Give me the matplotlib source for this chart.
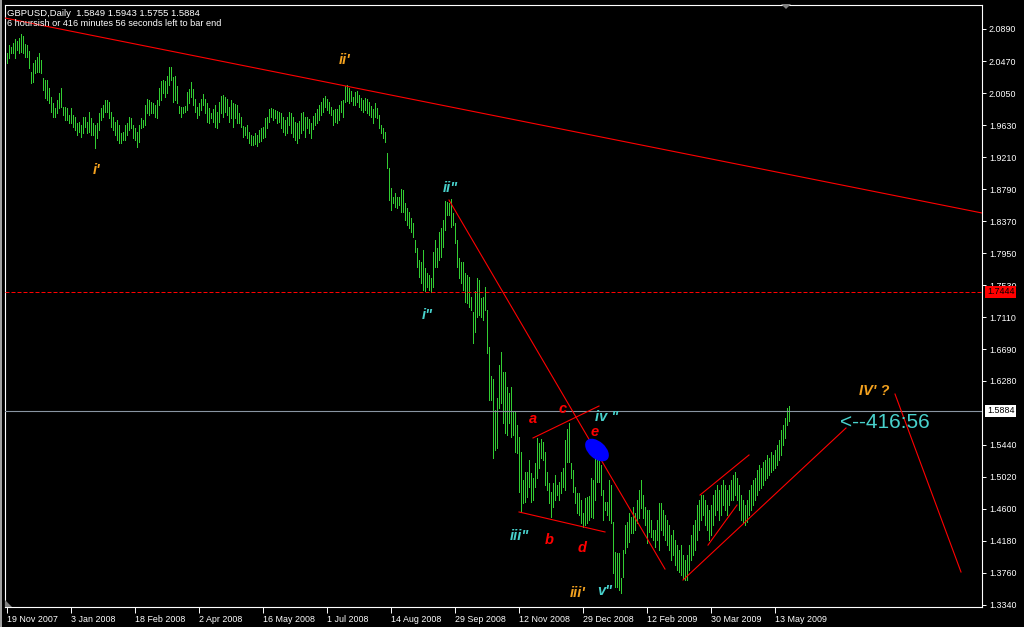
import numpy as np
import matplotlib
matplotlib.use("Agg")
import matplotlib.pyplot as plt
from matplotlib.patches import Ellipse, Polygon, Rectangle
from matplotlib.transforms import ScaledTranslation, blended_transform_factory

plt.rcParams['font.family'] = ['Liberation Sans', 'DejaVu Sans']

SYMBOL = "GBPUSD,Daily"
LAST_BAR = [1.5849, 1.5943, 1.5755, 1.5884]
TIMER = "6 hoursish or 416 minutes 56 seconds left to bar end"

# ---- daily high / low values ----
high_a = [2.058, 2.068, 2.065, 2.071, 2.076, 2.073, 2.077, 2.082, 2.080, 2.069,
          2.068, 2.060, 2.033, 2.044, 2.048, 2.052, 2.058, 2.048, 2.025, 2.022,
          2.022, 2.012, 2.000, 1.992, 1.985, 1.996, 2.005, 2.012, 1.987, 1.987,
          1.985, 1.976, 1.985, 1.976, 1.974, 1.966, 1.967, 1.963, 1.974, 1.974,
          1.967, 1.980, 1.972, 1.966, 1.963, 1.966, 1.979, 1.985, 1.989, 1.996,
          1.996, 1.993, 1.980, 1.974, 1.967, 1.970, 1.963]
low_a = [2.044, 2.051, 2.058, 2.058, 2.051, 2.062, 2.058, 2.059, 2.058, 2.052,
         2.052, 2.038, 2.018, 2.020, 2.031, 2.033, 2.033, 2.031, 2.009, 1.999,
         1.996, 1.992, 1.980, 1.974, 1.974, 1.979, 1.985, 1.987, 1.976, 1.970,
         1.970, 1.966, 1.966, 1.961, 1.957, 1.950, 1.954, 1.947, 1.953, 1.961,
         1.953, 1.954, 1.950, 1.950, 1.933, 1.946, 1.957, 1.970, 1.974, 1.980,
         1.980, 1.972, 1.961, 1.957, 1.950, 1.943, 1.940]

high_b = [1.953, 1.954, 1.963, 1.966, 1.974, 1.972, 1.963, 1.959, 1.954, 1.963,
          1.972, 1.970, 1.989, 1.997, 1.996, 1.993, 1.992, 1.989, 1.996, 2.012,
          2.021, 2.022, 2.021, 2.027, 2.039, 2.039, 2.026, 2.027, 2.014, 1.988,
          1.987, 1.987, 1.988, 2.006, 2.010, 2.020, 2.010, 1.997, 1.987, 1.992,
          1.997, 2.004, 1.997, 1.992, 1.985, 1.979, 1.984, 1.989, 1.980, 1.993,
          2.001, 2.002, 2.000, 1.997, 1.987, 1.996, 1.992, 1.991, 1.989, 1.979,
          1.974, 1.962, 1.961, 1.963, 1.954, 1.950, 1.949, 1.953, 1.950, 1.957]
low_b = [1.940, 1.943, 1.943, 1.950, 1.957, 1.959, 1.946, 1.943, 1.934, 1.941,
         1.959, 1.961, 1.963, 1.979, 1.976, 1.979, 1.979, 1.974, 1.972, 1.989,
         1.996, 2.005, 2.000, 2.005, 2.016, 2.022, 1.993, 1.996, 1.992, 1.979,
         1.974, 1.979, 1.980, 1.983, 1.992, 2.000, 1.989, 1.980, 1.972, 1.976,
         1.983, 1.989, 1.979, 1.967, 1.966, 1.972, 1.967, 1.961, 1.959, 1.967,
         1.979, 1.974, 1.980, 1.976, 1.967, 1.972, 1.961, 1.972, 1.966, 1.966,
         1.961, 1.947, 1.950, 1.946, 1.940, 1.937, 1.937, 1.938, 1.936, 1.941]

high_c = [1.959, 1.961, 1.972, 1.974, 1.984, 1.985, 1.984, 1.983, 1.981, 1.980,
          1.979, 1.974, 1.970, 1.974, 1.980, 1.979, 1.974, 1.967, 1.966, 1.968,
          1.979, 1.980, 1.974, 1.974, 1.971, 1.966, 1.975, 1.979, 1.984, 1.989,
          1.993, 1.999, 2.001, 1.997, 1.993, 1.987, 1.983, 1.984, 1.984, 1.989,
          1.995, 1.996, 2.014, 2.016, 2.012, 2.008, 2.000, 2.006, 2.008, 2.002,
          1.999, 1.996, 1.999, 1.997, 1.993, 1.988, 1.984, 1.992, 1.985, 1.976,
          1.963, 1.959, 1.954, 1.926, 1.907]
low_c = [1.942, 1.946, 1.947, 1.959, 1.967, 1.974, 1.970, 1.972, 1.966, 1.967,
         1.959, 1.954, 1.950, 1.953, 1.963, 1.953, 1.947, 1.943, 1.940, 1.946,
         1.953, 1.957, 1.947, 1.959, 1.953, 1.946, 1.958, 1.963, 1.966, 1.970,
         1.976, 1.980, 1.987, 1.983, 1.979, 1.976, 1.963, 1.967, 1.966, 1.970,
         1.980, 1.974, 1.993, 1.995, 1.992, 1.995, 1.989, 1.989, 1.993, 1.987,
         1.983, 1.980, 1.983, 1.979, 1.976, 1.974, 1.966, 1.974, 1.972, 1.959,
         1.953, 1.946, 1.941, 1.907, 1.865]

high_d = [1.881, 1.869, 1.874, 1.869, 1.869, 1.879, 1.878, 1.861, 1.854, 1.849,
          1.841, 1.835, 1.812, 1.802, 1.786, 1.784, 1.799, 1.776, 1.769, 1.767,
          1.763, 1.797, 1.812, 1.802, 1.823, 1.828, 1.839, 1.864, 1.862, 1.861,
          1.866, 1.848, 1.835, 1.812, 1.789, 1.784, 1.784, 1.769, 1.767, 1.764,
          1.738,
          1.718, 1.745, 1.763, 1.760, 1.736, 1.738, 1.751, 1.721, 1.672, 1.634,
          1.630, 1.590, 1.605, 1.649, 1.666, 1.639, 1.639, 1.620, 1.612, 1.620,
          1.587, 1.587, 1.570]
low_d = [1.852, 1.861, 1.856, 1.854, 1.858, 1.849, 1.849, 1.839, 1.832, 1.828,
         1.823, 1.816, 1.797, 1.777, 1.764, 1.756, 1.747, 1.745, 1.751, 1.747,
         1.7444, 1.751, 1.777, 1.777, 1.786, 1.790, 1.803, 1.826, 1.845, 1.845,
         1.829, 1.832, 1.808, 1.777, 1.763, 1.756, 1.747, 1.731, 1.730, 1.725,
         1.721,
         1.677, 1.692, 1.711, 1.714, 1.711, 1.708, 1.721, 1.664, 1.603, 1.603,
         1.527, 1.537, 1.540, 1.592, 1.599, 1.572, 1.559, 1.557, 1.572, 1.554,
         1.557, 1.535, 1.533]

high_e = [1.554, 1.535, 1.498, 1.508, 1.508, 1.524, 1.507, 1.500, 1.520, 1.553,
          1.546, 1.552, 1.548, 1.535, 1.508, 1.494, 1.482, 1.494, 1.504, 1.491,
          1.495, 1.508, 1.514, 1.550, 1.565, 1.572, 1.520, 1.511, 1.489, 1.481,
          1.481, 1.472, 1.455, 1.474, 1.476, 1.477, 1.500, 1.498, 1.550, 1.538,
          1.537, 1.517, 1.485, 1.469, 1.469, 1.498, 1.491, 1.443, 1.403, 1.402,
          1.402, 1.369, 1.406, 1.439, 1.443, 1.455, 1.449, 1.462, 1.455, 1.472,
          1.485, 1.498, 1.478, 1.462, 1.458, 1.458, 1.445, 1.432, 1.432, 1.445,
          1.468, 1.468]
low_e = [1.482, 1.456, 1.468, 1.469, 1.476, 1.489, 1.469, 1.472, 1.489, 1.500,
         1.514, 1.527, 1.524, 1.491, 1.485, 1.468, 1.449, 1.462, 1.472, 1.478,
         1.472, 1.481, 1.489, 1.485, 1.521, 1.521, 1.500, 1.482, 1.468, 1.455,
         1.452, 1.441, 1.436, 1.439, 1.441, 1.445, 1.449, 1.448, 1.472, 1.495,
         1.495, 1.478, 1.445, 1.458, 1.452, 1.445, 1.441, 1.376, 1.358, 1.358,
         1.354, 1.350, 1.371, 1.402, 1.410, 1.417, 1.428, 1.428, 1.432, 1.441,
         1.448, 1.461, 1.448, 1.439, 1.415, 1.430, 1.423, 1.419, 1.410, 1.419,
         1.406, 1.432]

high_f = [1.458, 1.452, 1.445, 1.439, 1.426, 1.432, 1.419, 1.413, 1.406, 1.413,
          1.399, 1.393, 1.399, 1.413, 1.426, 1.439, 1.445, 1.465, 1.472, 1.478,
          1.478, 1.472, 1.465, 1.458, 1.465, 1.478, 1.485, 1.491, 1.485, 1.491,
          1.498, 1.491, 1.485, 1.491, 1.498, 1.504, 1.508, 1.500, 1.491, 1.478,
          1.472, 1.465, 1.472, 1.485, 1.491, 1.498, 1.500, 1.511, 1.517, 1.514,
          1.521, 1.524, 1.531, 1.527, 1.535, 1.531, 1.537, 1.544, 1.550, 1.563,
          1.570, 1.579, 1.592, 1.5943]
low_f = [1.426, 1.419, 1.413, 1.406, 1.393, 1.399, 1.386, 1.380, 1.377, 1.373,
         1.369, 1.367, 1.367, 1.380, 1.393, 1.399, 1.406, 1.419, 1.432, 1.445,
         1.452, 1.439, 1.432, 1.419, 1.426, 1.439, 1.452, 1.458, 1.445, 1.452,
         1.465, 1.458, 1.452, 1.465, 1.472, 1.472, 1.478, 1.472, 1.458, 1.445,
         1.441, 1.439, 1.443, 1.452, 1.458, 1.465, 1.472, 1.478, 1.485, 1.487,
         1.491, 1.498, 1.500, 1.504, 1.508, 1.511, 1.514, 1.517, 1.524, 1.531,
         1.544, 1.553, 1.570, 1.5755]

highs = np.array(high_a + high_b + high_c + high_d + high_e + high_f)
lows = np.array(low_a + low_b + low_c + low_d + low_e + low_f)

price_ticks = [2.0890, 2.0470, 2.0050, 1.9630, 1.9210, 1.8790, 1.8370, 1.7950,
               1.7530, 1.7110, 1.6690, 1.6280, 1.5440, 1.5020, 1.4600, 1.4180,
               1.3760, 1.3340]
date_labels = ["19 Nov 2007", "3 Jan 2008", "18 Feb 2008", "2 Apr 2008",
               "16 May 2008", "1 Jul 2008", "14 Aug 2008", "29 Sep 2008",
               "12 Nov 2008", "29 Dec 2008", "12 Feb 2009", "30 Mar 2009",
               "13 May 2009"]
date_bars = [0, 32, 64, 96, 128, 160, 192, 224, 256, 288, 320, 352, 384]

level_line = 1.7444
bid_price = 1.5884

# wave labels: text, bar position, price position, colour
ORANGE = '#F2A11F'
TURQ = '#48D1CC'
RED = '#FF0000'
wave_text = ["i'", "ii'", "iii'", "IV' ?", 'i"', 'ii"', 'iii"', 'iv "', 'v"',
             'a', 'b', 'c', 'd', 'e']
wave_bar = [45.25, 169.25, 285.75, 433.75, 210.25, 221.75, 256.25, 300.25, 299.25,
            263.25, 271.25, 278.25, 287.75, 294.25]
wave_price = [1.904, 2.048, 1.350, 1.6145, 1.714, 1.8802, 1.4244, 1.5804, 1.3523,
              1.5778, 1.4192, 1.5909, 1.4087, 1.5607]
wave_color = [ORANGE, ORANGE, ORANGE, ORANGE, TURQ, TURQ, TURQ, TURQ, TURQ,
              RED, RED, RED, RED, RED]

# drawn trend lines: (bar0, price0, bar1, price1)
trend_lines = [
    (-0.75, 2.1034, 487.75, 1.8478),
    (221.25, 1.8648, 329.25, 1.3811),
    (263.25, 1.5529, 296.25, 1.5948),
    (256.25, 1.4559, 299.25, 1.4297),
    (338.25, 1.3667, 419.75, 1.5660),
    (346.75, 1.4781, 371.25, 1.5306),
    (350.75, 1.4125, 365.25, 1.4650),
    (444.25, 1.6105, 477.25, 1.3772),
]
timer_label = "<--416:56"
timer_pos = (416.75, 1.5726)
blob_pos = (295.25, 1.5371)

W, H = 1024, 627
fig = plt.figure(figsize=(W / 100, H / 100), dpi=100, facecolor='black')
ax = fig.add_axes([5 / W, (H - 607) / H, 977 / W, 602 / H])
ax.set_facecolor('black')

x0 = -0.75
ax.set_xlim(x0, x0 + 977 / 2)
ax.set_ylim(2.127 - 0.0013108 * 607, 2.127 - 0.0013108 * 5)

xs = np.arange(len(highs))
ax.vlines(xs, lows, highs, colors='#32CD32', linewidth=0.5, antialiased=False, zorder=2)

ax.axhline(level_line, color=RED, lw=0.72, ls=(0, (4, 2)), zorder=3)
ax.axhline(bid_price, color='#8995a2', lw=0.8, zorder=3)

for b0, p0, b1, p1 in trend_lines:
    ax.plot([b0, b1], [p0, p1], color=RED, lw=0.8, zorder=4, clip_on=True)

for t, b, p, c in zip(wave_text, wave_bar, wave_price, wave_color):
    ax.text(b, p, t, color=c, fontsize=10.5, fontweight='bold', style='italic',
            ha='center', va='center', zorder=6)

ax.text(timer_pos[0], timer_pos[1], timer_label, color=TURQ, fontsize=15,
        ha='left', va='center', zorder=6)

trans = fig.dpi_scale_trans + ScaledTranslation(blob_pos[0], blob_pos[1], ax.transData)
blob = Ellipse((0, 0), width=0.28, height=0.17, angle=-42, transform=trans,
               facecolor='#0000FF', edgecolor='none', zorder=5)
ax.add_artist(blob)

# axes / ticks
for s in ax.spines.values():
    s.set_color('white')
    s.set_linewidth(0.8)
ax.yaxis.tick_right()
ax.set_yticks(price_ticks)
ax.set_yticklabels([f"{t:.4f}" for t in price_ticks])
ax.tick_params(axis='y', direction='out', length=3, width=0.7, colors='white',
               labelsize=6.4, pad=2)
ax.set_xticks(date_bars)
ax.set_xticklabels(date_labels)
ax.tick_params(axis='x', direction='out', length=4, width=0.7, colors='white',
               labelsize=6.4, pad=1.5)
for lbl in ax.get_xticklabels():
    lbl.set_horizontalalignment('left')
    lbl.set_transform(lbl.get_transform() + ScaledTranslation(0.5 / 100, 0, fig.dpi_scale_trans))

bt = blended_transform_factory(ax.transAxes, ax.transData)
ax.annotate(f"{level_line:.4f}", xy=(1, level_line), xycoords=bt, xytext=(5, 0),
            textcoords='offset pixels', ha='left', va='center', fontsize=6.4,
            color='black', zorder=7, annotation_clip=False,
            bbox=dict(boxstyle='square,pad=0.2', fc=RED, ec='none'))
ax.annotate(f"{bid_price:.4f}", xy=(1, bid_price), xycoords=bt, xytext=(5, 0),
            textcoords='offset pixels', ha='left', va='center', fontsize=6.4,
            color='black', zorder=7, annotation_clip=False,
            bbox=dict(boxstyle='square,pad=0.2', fc='white', ec='none'))

# header
fig.text(7 / W, 1 - 13 / H, f"{SYMBOL}  " + " ".join(f"{v:.4f}" for v in LAST_BAR),
         color='white', fontsize=6.8, va='center', ha='left')
fig.text(7 / W, 1 - 23 / H, TIMER, color='white', fontsize=6.6, va='center', ha='left')

# chart decorations (shift marker, window edge)
fig.add_artist(Polygon([[781, H - 4], [791, H - 4], [786, H - 9]], closed=True,
                       transform=None, facecolor='#808080', edgecolor='none'))
fig.add_artist(Polygon([[5, H - 600], [5, H - 607], [12, H - 607]], closed=True,
                       transform=None, facecolor='#808080', edgecolor='none'))
fig.add_artist(Rectangle((0, 0), 2, H, transform=None, facecolor='#a0a0a0', edgecolor='none'))

fig.savefig("out.png", dpi=100, facecolor='black')
